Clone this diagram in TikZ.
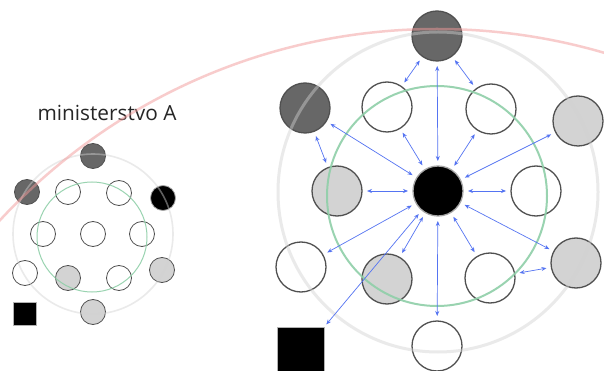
\documentclass[tikz,border=0pt]{standalone}
\usepackage{fontspec}
\setmainfont{Open Sans}
\usetikzlibrary{arrows.meta}

\definecolor{darkfill}{HTML}{676767}
\definecolor{lightfill}{HTML}{D3D3D3}
\definecolor{rim}{HTML}{505050}
\definecolor{linkblue}{HTML}{5574F2}
\definecolor{ringgreen}{HTML}{8FCFA8}
\definecolor{ringgray}{HTML}{D1D1D1}
\definecolor{arcred}{HTML}{F29A9A}

\tikzset{
  person/.style={circle, draw=rim, line width=1.3pt, minimum size=50pt, inner sep=0pt, outer sep=3pt},
  small/.style={person, minimum size=25pt, line width=0.8pt, outer sep=1pt},
  dark/.style={fill=darkfill},
  light/.style={fill=lightfill},
  boss/.style={fill=black, draw=gray!70},
  link/.style={{Stealth[length=5pt,width=4pt]}-{Stealth[length=5pt,width=4pt]}, draw=linkblue, line width=0.7pt, shorten >=2pt, shorten <=2pt},
}

\begin{document}
\begin{tikzpicture}[x=1pt, y=-1pt]
  \clip (0,0) rectangle (604,371);
  \fill[white] (0,0) rectangle (604,371);

  % ministerstvo A
  \node[text=black!85, font=\fontsize{20.8}{24}\selectfont] (title) at (107,113) {ministerstvo A};

  \node[small, dark] (st) at (93,156) {};
  \node[small, dark] (sul) at (27,192) {};
  \node[small] (siul) at (68,192) {};
  \node[small] (siur) at (119,193) {};
  \node[small, boss] (sr) at (163,198) {};
  \node[small] (sml) at (43,234) {};
  \node[small] (sc) at (93,234) {};
  \node[small] (smr) at (142,234) {};
  \node[small] (sll) at (25,273) {};
  \node[small, light] (slg) at (68,278) {};
  \node[small] (slr) at (119,278) {};
  \node[small, light] (srg) at (162,270) {};
  \node[small, light] (sb) at (93,312) {};
  \node[fill=black, draw=gray!60, minimum size=23pt, inner sep=0pt] (ssq) at (24.5,313.5) {};

  \draw[ringgreen, line width=1pt, opacity=0.9] (92,237) circle[radius=55];
  \draw[ringgray, line width=1.6pt, opacity=0.45] (93,234) circle[radius=80];

  % big one
  \node[person, boss] (c) at (438,191) {};
  \node[person, dark] (t) at (437,36) {};
  \node[person, dark] (ul) at (305,108) {};
  \node[person] (iul) at (387,107) {};
  \node[person] (iur) at (491,109) {};
  \node[person, light] (rg) at (578,121) {};
  \node[person, light] (lg) at (337,191) {};
  \node[person] (rw) at (536,191) {};
  \node[person] (llw) at (301,267) {};
  \node[person, light] (lg2) at (387,279) {};
  \node[person] (lrw) at (490,278) {};
  \node[person, light] (rg2) at (576,263) {};
  \node[person] (b) at (437,346) {};
  \node[fill=black, draw=gray!60, minimum size=47pt, inner sep=0pt, outer sep=1pt] (sq) at (300.5,350.5) {};

  \draw[ringgreen, line width=2pt, opacity=0.9] (437,196) circle[radius=110];
  \draw[ringgray, line width=3pt, opacity=0.45] (438,192) circle[radius=160];
  \draw[arcred, line width=2.5pt, opacity=0.5] (437,624) circle[radius=595];

  \draw[link] (t) -- (iul);
  \draw[link] (t) -- (iur);
  \draw[link] (t) -- (c);
  \draw[link] (ul) -- (lg);
  \foreach \n in {ul,iul,iur,rg,lg,rw,llw,lg2,b,lrw,rg2}
    \draw[link] (\n) -- (c);
  \draw[link] (sq.north east) -- (c);
  \draw[link] (lrw) -- (rg2);
\end{tikzpicture}
\end{document}
